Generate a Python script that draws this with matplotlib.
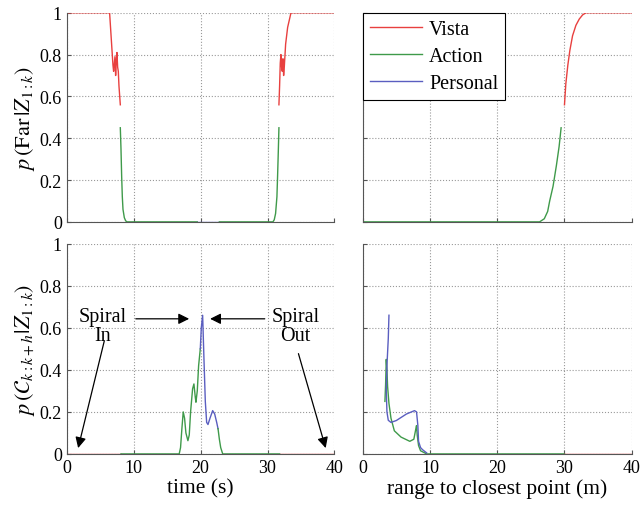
import numpy as np
import matplotlib
matplotlib.use("Agg")
import matplotlib.pyplot as plt

plt.rcParams['font.family'] = ['Liberation Serif', 'DejaVu Serif']
plt.rcParams['mathtext.fontset'] = 'stix'

RED = '#e8403f'
GREEN = '#3f9a4a'
BLUE = '#5a5ec0'

# ---- top left: p(Far | Z) vs time ----
far_t_vista1 = [0, 6.4, 6.6, 6.9, 7.0, 7.2, 7.3, 7.4, 7.5, 7.6, 7.7, 7.8, 8.0]
far_p_vista1 = [1, 1, 0.9, 0.75, 0.72, 0.79, 0.70, 0.77, 0.81, 0.74, 0.72, 0.65, 0.56]
far_t_action1 = [8.0, 8.1, 8.2, 8.3, 8.4, 8.6, 8.8, 9.0, 19.5]
far_p_action1 = [0.45, 0.35, 0.22, 0.12, 0.06, 0.02, 0.005, 0, 0]
far_t_personal = [19.5, 22.8]
far_p_personal = [0, 0]
far_t_action2 = [22.8, 30.8, 31.0, 31.2, 31.4, 31.5, 31.6, 31.7]
far_p_action2 = [0, 0, 0.01, 0.04, 0.12, 0.22, 0.33, 0.45]
far_t_vista2 = [31.7, 31.8, 31.9, 32.0, 32.1, 32.2, 32.3, 32.4, 32.5, 32.7, 33.0, 33.5, 40]
far_p_vista2 = [0.56, 0.65, 0.76, 0.80, 0.74, 0.72, 0.78, 0.70, 0.74, 0.85, 0.93, 1, 1]

# ---- top right: p(Far | Z) vs range ----
far_r_action = [0, 26.3, 27.0, 27.5, 27.8, 28.3, 28.8, 29.2, 29.5]
far_rp_action = [0, 0, 0.015, 0.05, 0.1, 0.17, 0.27, 0.36, 0.45]
far_r_vista = [30.0, 30.2, 30.5, 30.8, 31.2, 31.7, 32.2, 32.7, 33.2, 40]
far_rp_vista = [0.56, 0.66, 0.75, 0.82, 0.89, 0.94, 0.97, 0.99, 1, 1]

# ---- bottom left: p(C | Z) vs time ----
c_t_vista1 = [0, 8.1]
c_p_vista1 = [0, 0]
c_t_action1 = [8.1, 16.8, 17.0, 17.2, 17.4, 17.6, 17.8, 18.1, 18.3, 18.5, 18.8, 19.0,
               19.2, 19.3, 19.5, 19.7, 19.95]
c_p_action1 = [0, 0, 0.03, 0.12, 0.20, 0.17, 0.10, 0.063, 0.09, 0.2, 0.31, 0.333,
               0.27, 0.246, 0.30, 0.42, 0.50]
c_t_personal = [19.95, 20.1, 20.3, 20.5, 20.7, 20.9, 21.1, 21.4, 21.8, 22.1, 22.4, 22.6]
c_p_personal = [0.50, 0.60, 0.66, 0.45, 0.25, 0.15, 0.14, 0.17, 0.206, 0.19, 0.15, 0.12]
c_t_action2 = [22.6, 22.8, 23.0, 23.3, 31.8]
c_p_action2 = [0.12, 0.07, 0.03, 0, 0]
c_t_vista2 = [31.8, 40]
c_p_vista2 = [0, 0]

# ---- bottom right: p(C | Z) vs range ----
c_r_action = [3.3, 3.4, 3.5, 3.6, 3.7, 3.9, 4.2, 4.7, 5.7, 7.0, 7.6, 7.9, 8.0, 8.1,
              8.3, 8.6, 9.5, 30.0]
c_rp_action = [0.25, 0.33, 0.45, 0.40, 0.32, 0.24, 0.17, 0.11, 0.08, 0.06, 0.07, 0.12,
               0.135, 0.09, 0.04, 0.015, 0, 0]
c_r_personal = [3.9, 3.8, 3.6, 3.5, 3.6, 3.8, 4.2, 5.0, 6.5, 7.7, 8.0, 8.2, 8.3,
                8.6, 8.9, 9.5]
c_rp_personal = [0.66, 0.55, 0.42, 0.30, 0.20, 0.16, 0.15, 0.159, 0.19, 0.206, 0.2,
                 0.135, 0.06, 0.03, 0.02, 0.005]
c_r_vista = [30.0, 40]
c_rp_vista = [0, 0]

xticks = [0, 10, 20, 30, 40]
yticks = [0, 0.2, 0.4, 0.6, 0.8, 1]
ytick_labels = ['0', '0.2', '0.4', '0.6', '0.8', '1']

fig = plt.figure(figsize=(6.42, 5.10), dpi=100)
ax_tl = fig.add_axes([0.104, 0.563, 0.417, 0.41])
ax_tr = fig.add_axes([0.565, 0.563, 0.419, 0.41])
ax_bl = fig.add_axes([0.104, 0.108, 0.417, 0.412])
ax_br = fig.add_axes([0.565, 0.108, 0.419, 0.412])

lw = 1.0
ax_tl.plot(far_t_vista1, far_p_vista1, color=RED, lw=lw)
ax_tl.plot(far_t_action1, far_p_action1, color=GREEN, lw=lw)
ax_tl.plot(far_t_personal, far_p_personal, color=BLUE, lw=lw)
ax_tl.plot(far_t_action2, far_p_action2, color=GREEN, lw=lw)
ax_tl.plot(far_t_vista2, far_p_vista2, color=RED, lw=lw)

ax_tr.plot(far_r_vista, far_rp_vista, color=RED, lw=lw, label='Vista')
ax_tr.plot(far_r_action, far_rp_action, color=GREEN, lw=lw, label='Action')
ax_tr.plot([], [], color=BLUE, lw=lw, label='Personal')

ax_bl.plot(c_t_vista1, c_p_vista1, color=RED, lw=lw)
ax_bl.plot(c_t_action1, c_p_action1, color=GREEN, lw=lw)
ax_bl.plot(c_t_personal, c_p_personal, color=BLUE, lw=lw)
ax_bl.plot(c_t_action2, c_p_action2, color=GREEN, lw=lw)
ax_bl.plot(c_t_vista2, c_p_vista2, color=RED, lw=lw)

ax_br.plot(c_r_action, c_rp_action, color=GREEN, lw=lw)
ax_br.plot(c_r_personal, c_rp_personal, color=BLUE, lw=lw)
ax_br.plot(c_r_vista, c_rp_vista, color=RED, lw=lw)

for ax in (ax_tl, ax_tr, ax_bl, ax_br):
    ax.set_xlim(0, 40)
    ax.set_ylim(0, 1)
    ax.set_xticks(xticks)
    ax.set_yticks(yticks)
    ax.grid(True, linestyle=':', color='#999999', lw=0.8)
    ax.spines['top'].set_visible(False)
    ax.spines['right'].set_visible(False)
    for s in ('left', 'bottom'):
        ax.spines[s].set_color('#555555')
    ax.tick_params(direction='in', length=3, labelsize=13, color='#555555')

ax_tl.set_yticklabels(ytick_labels)
ax_bl.set_yticklabels(ytick_labels)
ax_tl.set_xticklabels([])
ax_tr.set_xticklabels([])
ax_tr.set_yticklabels([])
ax_br.set_yticklabels([])

ax_tl.set_ylabel(r'$p\,(\mathrm{Far}\,|Z_{1:k})$', fontsize=16, labelpad=2)
ax_bl.set_ylabel(r'$p\,(\mathcal{C}_{k:k+h}|Z_{1:k})$', fontsize=16, labelpad=2)
ax_bl.set_xlabel('time (s)', fontsize=15.5, labelpad=2)
ax_br.set_xlabel('range to closest point (m)', fontsize=15.5, labelpad=2)

leg = ax_tr.legend(loc='upper left', bbox_to_anchor=(0, 1), borderaxespad=0,
                   fancybox=False, edgecolor='black', framealpha=1, fontsize=14.5,
                   handlelength=2.6, handletextpad=0.35, borderpad=0.35,
                   labelspacing=0.4)
leg.get_frame().set_linewidth(0.8)

arrow = dict(arrowstyle='-|>', color='black', lw=0.9, mutation_scale=16)
ax_bl.text(5.4, 0.61, 'Spiral\nIn', ha='center', va='center', fontsize=14.5,
           linespacing=1.0)
ax_bl.annotate('', xy=(18.7, 0.643), xytext=(9.9, 0.643), arrowprops=arrow)
ax_bl.annotate('', xy=(1.6, 0.015), xytext=(5.7, 0.55), arrowprops=arrow)
ax_bl.text(34.2, 0.61, 'Spiral\nOut', ha='center', va='center', fontsize=14.5,
           linespacing=1.0)
ax_bl.annotate('', xy=(21.0, 0.643), xytext=(30.0, 0.643), arrowprops=arrow)
ax_bl.annotate('', xy=(38.8, 0.015), xytext=(34.5, 0.49), arrowprops=arrow)

fig.savefig('out.png', dpi=100)
